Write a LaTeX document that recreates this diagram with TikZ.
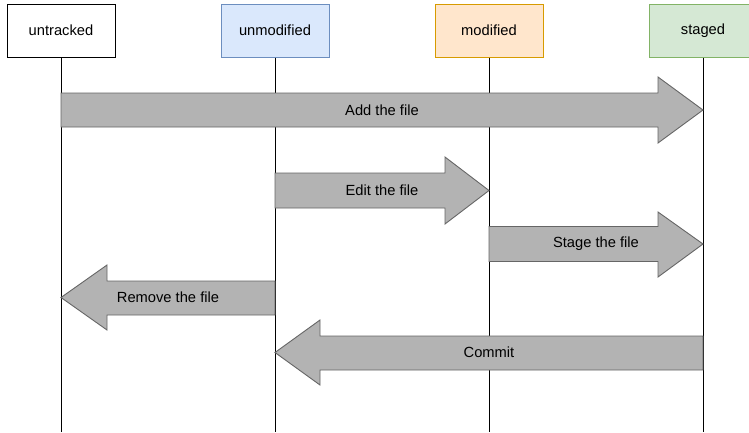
\documentclass[tikz,border=0pt]{standalone}
\usepackage{fontspec}
\setmainfont{Liberation Sans}
\definecolor{bluef}{HTML}{DAE8FC}\definecolor{blued}{HTML}{6C8EBF}
\definecolor{orangef}{HTML}{FFE6CC}\definecolor{oranged}{HTML}{D79B00}
\definecolor{greenf}{HTML}{D5E8D4}\definecolor{greend}{HTML}{82B366}
\definecolor{arrowf}{HTML}{B3B3B3}\definecolor{arrowd}{HTML}{666666}
\begin{document}
\begin{tikzpicture}[x=1pt,y=-1pt,
  state/.style={draw, line width=1pt, minimum width=108pt, minimum height=53pt, inner sep=0pt, font=\fontsize{14.7}{17}\selectfont},
  life/.style={draw=black, line width=0.9pt},
  fatarrow/.style={fill=arrowf, draw=arrowd, line width=0.9pt, line join=miter},
  lbl/.style={font=\fontsize{14.7}{17}\selectfont, inner sep=0pt}]
\useasboundingbox (0,0) rectangle (749,432);
\clip (0,0) rectangle (749,432);
% state boxes
\node[state, fill=white, draw=black] (untr) at (61,30.5) {untracked};
\node[state, fill=bluef, draw=blued] (unmod) at (275,30.5) {unmodified};
\node[state, fill=orangef, draw=oranged] (mod) at (489,30.5) {modified};
\node[state, fill=greenf, draw=greend] (stg) at (703,30.5) {staged};
% lifeline ends
\coordinate (untrE) at (61,432);
\coordinate (unmodE) at (275,432);
\coordinate (modE) at (489,432);
\coordinate (stgE) at (703,432);
\draw[life] (untr.south) -- (untrE);
\draw[life] (unmod.south) -- (unmodE);
\draw[life] (mod.south) -- (modE);
\draw[life] (stg.south) -- (stgE);
% Add the file
\draw[fatarrow] (61,93) -- (658,93) -- (658,77) -- (703,110) -- (658,143) -- (658,127) -- (61,127) -- cycle;
\node[lbl] (add) at (382,110) {Add the file};
% Edit the file
\draw[fatarrow] (275,173) -- (445,173) -- (445,157) -- (489,190.5) -- (445,224) -- (445,208) -- (275,208) -- cycle;
\node[lbl] (edit) at (382,190.5) {Edit the file};
% Stage the file
\draw[fatarrow] (489,226.5) -- (658,226.5) -- (658,212) -- (703,244) -- (658,277) -- (658,261.5) -- (489,261.5) -- cycle;
\node[lbl] (stage) at (596,244) {Stage the file};
% Remove the file
\draw[fatarrow] (275,281) -- (107,281) -- (107,265) -- (61,297.5) -- (107,330) -- (107,315) -- (275,315) -- cycle;
\node[lbl] (remove) at (168,297.5) {Remove the file};
% Commit
\draw[fatarrow] (703,336) -- (320,336) -- (320,320) -- (275,352.5) -- (320,385) -- (320,370) -- (703,370) -- cycle;
\node[lbl] (commit) at (489,352.5) {Commit};
\end{tikzpicture}
\end{document}
